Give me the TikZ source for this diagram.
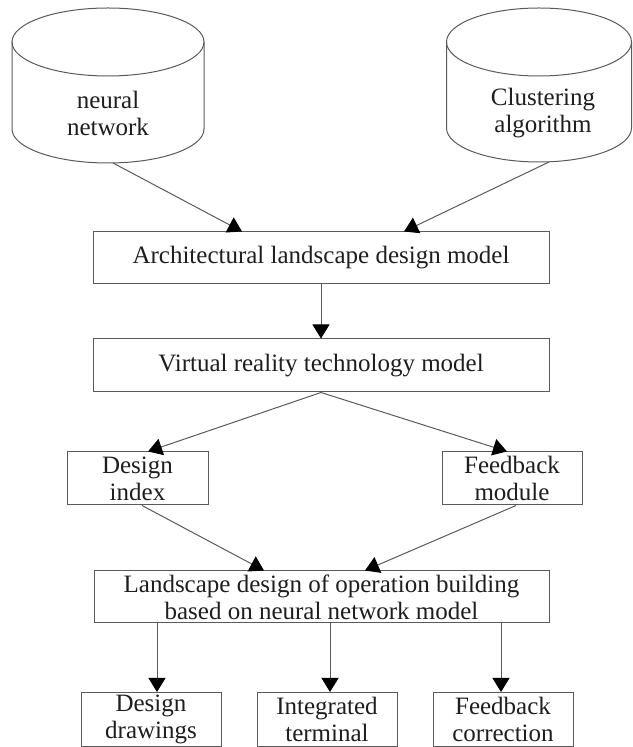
\documentclass[tikz,border=0pt]{standalone}
\usepackage{fontspec}
\setmainfont{Liberation Serif}
\usetikzlibrary{arrows.meta}
\definecolor{linegray}{HTML}{5A5A5A}
\definecolor{textdark}{HTML}{1E1E1E}
\begin{document}
\begin{tikzpicture}[x=1pt,y=1pt,
  lbl/.style={inner sep=0pt, align=center, text=textdark, font=\fontsize{25}{27}\selectfont},
  box/.style={lbl, draw=linegray, line width=1pt, minimum height=53pt},
  cyl/.style={draw=linegray, line width=1pt},
  conn/.style={draw=linegray, line width=1pt, -{Triangle[length=14pt,width=17pt,color=black]}}]
\useasboundingbox (0,0) rectangle (632,747);
% left cylinder
\draw[cyl] (108,705) ellipse [x radius=96, y radius=34];
\draw[cyl] (12,705) -- (12,618) arc[start angle=180,end angle=360,x radius=96,y radius=34] -- (204,705);
\node[lbl] (nn) at (108,634) {neural\\network};
\coordinate (nnout) at (113,584);
% right cylinder
\draw[cyl] (539,705) ellipse [x radius=92.5, y radius=34];
\draw[cyl] (446.5,705) -- (446.5,619) arc[start angle=180,end angle=360,x radius=92.5,y radius=34] -- (631.5,705);
\node[lbl] (ca) at (543,634) {Clustering\\algorithm};
\coordinate (caout) at (549,585);
% boxes
\node[box, minimum width=456pt, minimum height=52pt] (arch) at (321,489) {Architectural landscape design model};
\node[box, minimum width=456pt] (vr) at (321,381.5) {Virtual reality technology model};
\node[box, minimum width=141pt] (di) at (137.5,268.5) {Design\\index};
\node[box, minimum width=140pt] (fm) at (512,268.5) {Feedback\\module};
\node[box, minimum width=455pt, minimum height=52pt] (ld) at (321.5,150) {Landscape design of operation building\\based on neural network model};
\node[box, minimum width=140pt, minimum height=54pt] (dd) at (151,27.5) {Design\\drawings};
\node[box, minimum width=140pt, minimum height=54pt] (it) at (327,27.5) {Integrated\\terminal};
\node[box, minimum width=140pt, minimum height=54pt] (fc) at (503,27.5) {Feedback\\correction};
% connectors
\draw[conn] (nnout) -- (242,0 |- arch.north);
\draw[conn] (caout) -- (404,0 |- arch.north);
\draw[conn] (arch.south) -- (vr.north);
\draw[conn] (vr.south) -- (148,0 |- di.north);
\draw[conn] (vr.south) -- (507,0 |- fm.north);
\draw[conn] (142,0 |- di.south) -- (264,0 |- ld.north);
\draw[conn] (516,0 |- fm.south) -- (365,0 |- ld.north);
\draw[conn] (157,0 |- ld.south) -- (157,0 |- dd.north);
\draw[conn] (330,0 |- ld.south) -- (330,0 |- it.north);
\draw[conn] (501,0 |- ld.south) -- (501,0 |- fc.north);
\end{tikzpicture}
\end{document}
